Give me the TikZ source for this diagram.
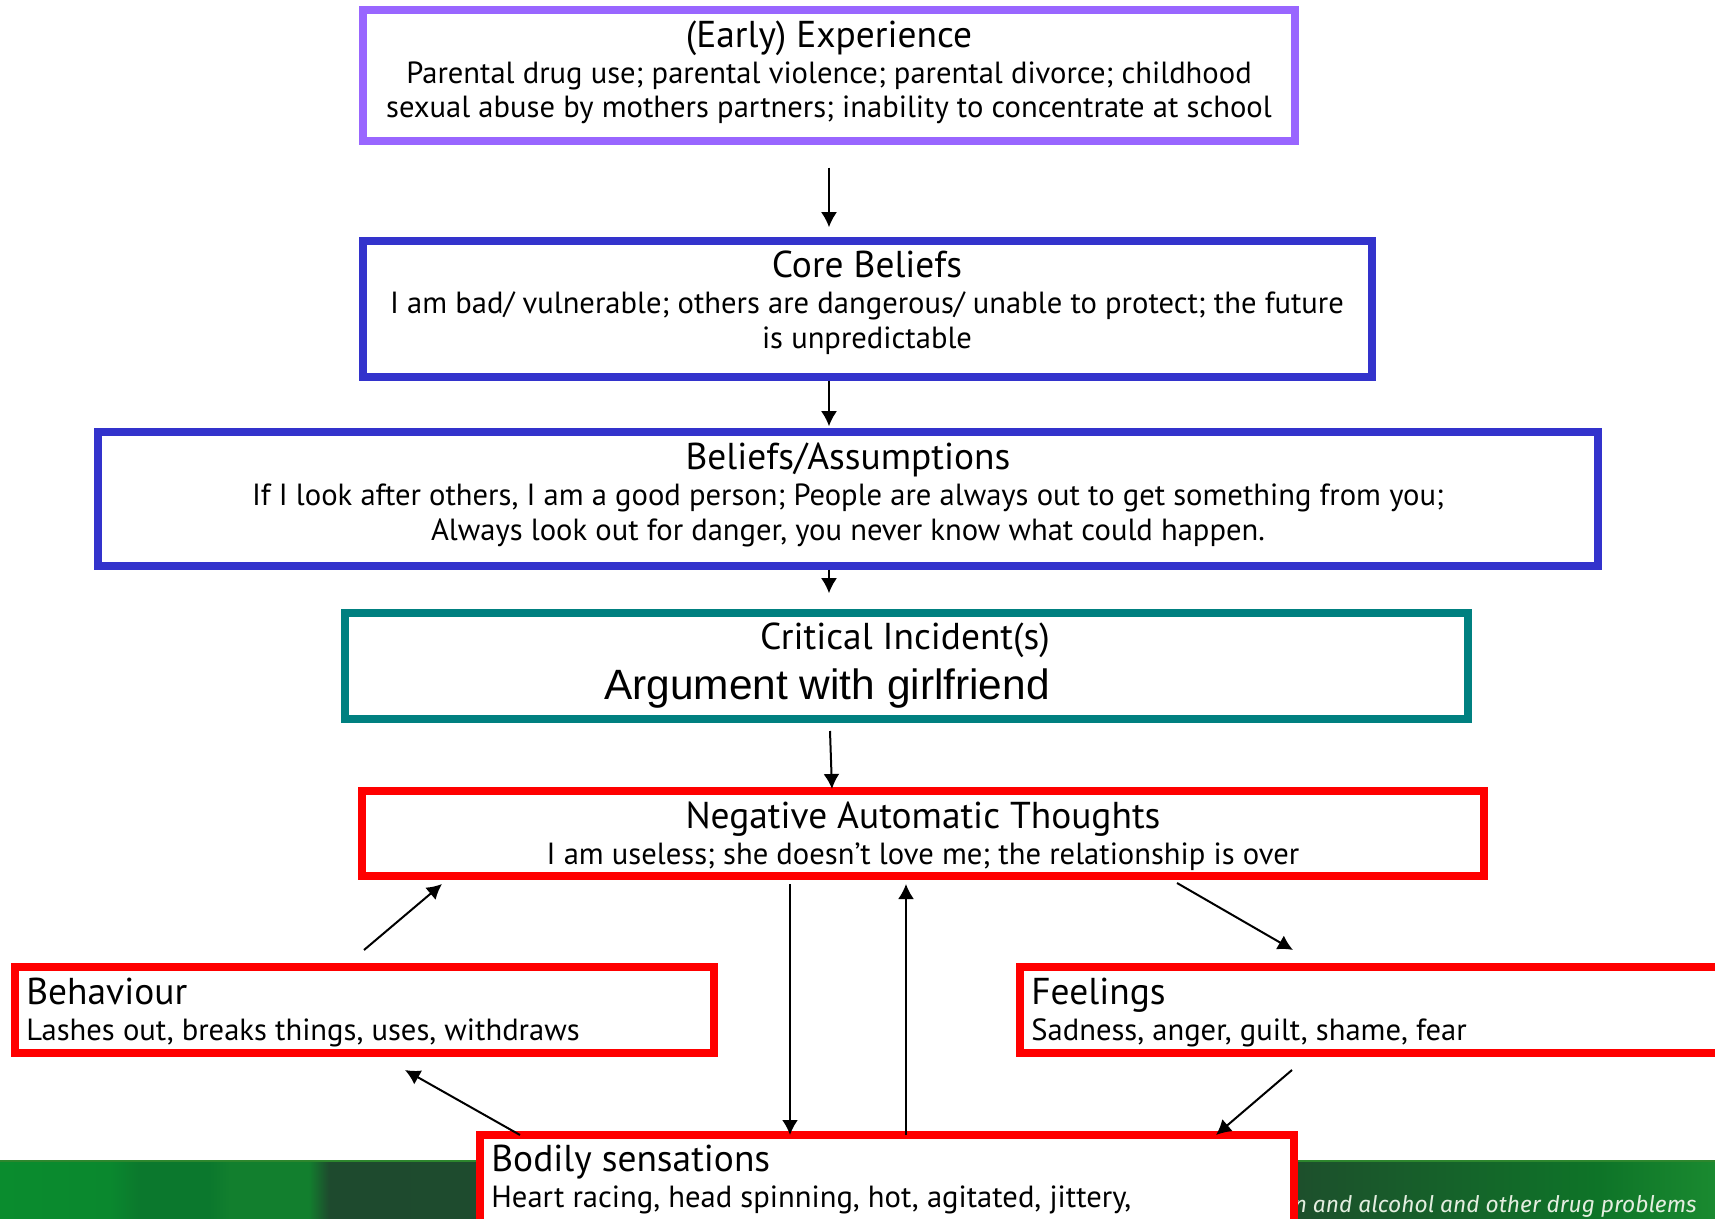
\documentclass[tikz,border=0pt]{standalone}
\usepackage{fontspec}
\setmainfont{PT Sans}
\newfontfamily\argfont{Liberation Sans}
\newfontfamily\footfont{Fira Sans}
\usetikzlibrary{arrows.meta,fit}
\definecolor{exppurple}{HTML}{9966FF}
\definecolor{beliefblue}{HTML}{3333CC}
\definecolor{incteal}{HTML}{008080}
\definecolor{cycred}{HTML}{FF0000}
\definecolor{foottext}{HTML}{E4EEE0}
% footer band colours, left to right
\pgfdeclarehorizontalshading{footerband}{100bp}{%
  color(0bp)=(rgb,255:red,10;green,140;blue,46);
  color(25bp)=(rgb,255:red,10;green,140;blue,46);
  color(28.2bp)=(rgb,255:red,10;green,136;blue,46);
  color(29.1bp)=(rgb,255:red,11;green,120;blue,45);
  color(31.1bp)=(rgb,255:red,11;green,120;blue,45);
  color(31.7bp)=(rgb,255:red,18;green,127;blue,46);
  color(34.0bp)=(rgb,255:red,18;green,127;blue,46);
  color(34.6bp)=(rgb,255:red,30;green,74;blue,46);
  color(62.9bp)=(rgb,255:red,29;green,80;blue,44);
  color(71.6bp)=(rgb,255:red,14;green,116;blue,40);
  color(75bp)=(rgb,255:red,26;green,138;blue,48);
  color(100bp)=(rgb,255:red,26;green,138;blue,48)}
\tikzset{
  frame/.style={draw=#1, line width=3.75pt, fill=white, inner sep=0pt},
  ttl/.style={font=\fontsize{18.7}{22}\selectfont, inner sep=0pt, anchor=mid},
  ttlw/.style={ttl, anchor=mid west},
  body/.style={font=\fontsize{15.3}{18}\selectfont, inner sep=0pt, anchor=mid},
  bodyw/.style={body, anchor=mid west},
  arr/.style={line width=1pt, -{Latex[length=7.5pt,width=8pt]}},
}
\begin{document}
\begin{tikzpicture}[x=0.5pt,y=-0.5pt]
\useasboundingbox (0,0) rectangle (1715,1219);
\clip (0,0) rectangle (1715,1219);
\fill[white] (0,0) rectangle (1715,1219);

% footer band
\shade[shading=footerband] (0,1160) rectangle (1715,1219);
\draw[line width=1pt, color=gray!50!green!70!black] (0,1160.5) -- (1715,1160.5);
\node[font=\footfont\itshape\fontsize{11.4}{13}\selectfont, text=foottext, anchor=base east, inner sep=0pt] (tag) at (1697,1212) {n and alcohol and other drug problems};

% boxes
\node[frame=exppurple, fit={(363,10) (1295,141)}] (early) {};
\node[frame=beliefblue, fit={(363,241) (1372,377)}] (core) {};
\node[frame=beliefblue, fit={(98,432) (1598,566)}] (beliefs) {};
\node[frame=incteal, fit={(345,613) (1468,719)}] (critical) {};
\node[frame=cycred, fit={(362,791) (1484,876)}] (nat) {};
\node[frame=cycred, fit={(15,967) (714,1053)}] (behav) {};
\node[frame=cycred, fit={(1020,967) (1730,1053)}] (feel) {};
\node[frame=cycred, fit={(480,1135) (1294,1240)}] (bodily) {};

% texts
\node[ttl] (earlyT) at (829,43) {(Early) Experience};
\node[body] (earlyA) at (829,79) {Parental drug use; parental violence; parental divorce; childhood};
\node[body] (earlyB) at (829,113) {sexual abuse by mothers partners; inability to concentrate at school};

\node[ttl] (coreT) at (867,273) {Core Beliefs};
\node[body] (coreA) at (867,309) {I am bad/ vulnerable; others are dangerous/ unable to protect; the future};
\node[body] (coreB) at (867,344) {is unpredictable};

\node[ttl] (belT) at (848,465) {Beliefs/Assumptions};
\node[body] (belA) at (848,501) {If I look after others, I am a good person; People are always out to get something from you;};
\node[body] (belB) at (848,536) {Always look out for danger, you never know what could happen.};

\node[ttl] (critT) at (905,645) {Critical Incident(s)};
\node[font=\argfont\fontsize{21.2}{25}\selectfont, inner sep=0pt, anchor=mid west] (critA) at (604,694) {Argument with girlfriend};

\node[ttl] (natT) at (923,823) {Negative Automatic Thoughts};
\node[body] (natA) at (923,859) {I am useless; she doesn’t love me; the relationship is over};

\node[ttlw] (behT) at (26,999) {Behaviour};
\node[bodyw] (behA) at (26,1035) {Lashes out, breaks things, uses, withdraws};

\node[ttlw] (feelT) at (1031,999) {Feelings};
\node[bodyw] (feelA) at (1031,1035) {Sadness, anger, guilt, shame, fear};

\node[ttlw] (bodT) at (491,1166) {Bodily sensations};
\node[bodyw] (bodA) at (491,1202) {Heart racing, head spinning, hot, agitated, jittery,};

% vertical chain
\draw[arr, shorten <=11.5pt, shorten >=5pt] (early.south) -- (early.south |- core.north);
\draw[arr, shorten >=1pt] (core.south -| early.south) -- (beliefs.north -| early.south);
\draw[arr, shorten >=8pt] (beliefs.south -| early.south) -- (critical.north -| early.south);
\coordinate (c4s) at (830,731);
\coordinate (c4e) at (832,789);
\draw[arr] (c4s) -- (c4e);

% cycle
\coordinate (bhOut) at (364,950);  \coordinate (natInL) at (442,884);
\coordinate (natOutR) at (1177,883); \coordinate (feelIn) at (1293,950);
\coordinate (feelOut) at (1292,1070); \coordinate (bodInR) at (1216,1135);
\coordinate (bodOutL) at (520,1135); \coordinate (bhIn) at (405,1070);
\coordinate (natOutD) at (790,884); \coordinate (bodInD) at (790,1135);
\coordinate (bodOutU) at (906,1135); \coordinate (natInU) at (906,884);
\draw[arr] (bhOut) -- (natInL);
\draw[arr] (natOutR) -- (feelIn);
\draw[arr] (feelOut) -- (bodInR);
\draw[arr] (bodOutL) -- (bhIn);
\draw[arr] (natOutD) -- (bodInD);
\draw[arr] (bodOutU) -- (natInU);
\end{tikzpicture}
\end{document}
